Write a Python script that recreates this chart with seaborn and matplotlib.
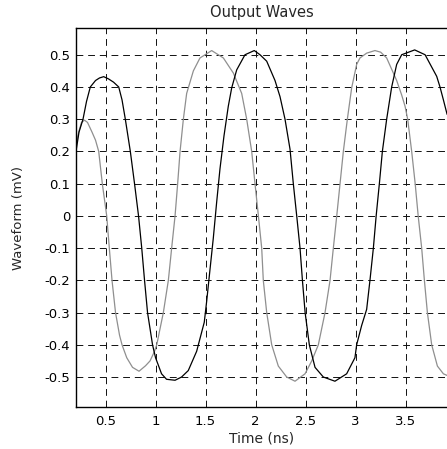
import matplotlib
matplotlib.use("Agg")
import matplotlib.pyplot as plt
import seaborn as sns
import pandas as pd

# Black wave (time in ns, waveform in mV)
black_t = [0.205, 0.235, 0.275, 0.31, 0.348, 0.40, 0.44, 0.482, 0.53, 0.58, 0.632, 0.665,
           0.698, 0.748, 0.79, 0.83, 0.862, 0.89, 0.92, 0.97, 1.0, 1.06, 1.11, 1.195, 1.26,
           1.327, 1.411, 1.487, 1.511, 1.544, 1.577, 1.611, 1.644, 1.684, 1.727, 1.761, 1.811,
           1.894, 1.987, 2.044, 2.111, 2.194, 2.244, 2.294, 2.344, 2.377, 2.411, 2.444, 2.468,
           2.495, 2.537, 2.594, 2.677, 2.793, 2.91, 2.993, 3.01, 3.06, 3.11, 3.143, 3.177,
           3.205, 3.237, 3.267, 3.31, 3.36, 3.41, 3.46, 3.59, 3.694, 3.81, 3.843, 3.877, 3.914]
black_v = [0.20, 0.26, 0.30, 0.355, 0.40, 0.42, 0.428, 0.432, 0.425, 0.415, 0.40, 0.36,
           0.30, 0.20, 0.10, 0.0, -0.10, -0.20, -0.30, -0.40, -0.44, -0.49, -0.507, -0.51, -0.50,
           -0.48, -0.42, -0.33, -0.265, -0.167, -0.07, 0.043, 0.146, 0.248, 0.34, 0.397, 0.453,
           0.50, 0.513, 0.50, 0.48, 0.42, 0.37, 0.30, 0.207, 0.10, 0.0, -0.10, -0.20,
           -0.30, -0.40, -0.47, -0.50, -0.513, -0.49, -0.44, -0.40, -0.34, -0.29, -0.20, -0.10,
           0.0, 0.10, 0.20, 0.30, 0.40, 0.47, 0.50, 0.515, 0.50, 0.433, 0.40, 0.36, 0.315]

# Gray wave
gray_t = [0.205, 0.232, 0.26, 0.29, 0.32, 0.365, 0.40, 0.432, 0.468, 0.512, 0.538, 0.565,
          0.60, 0.64, 0.665, 0.712, 0.77, 0.835, 0.90, 0.945, 0.99, 1.012, 1.078, 1.128,
          1.161, 1.195, 1.221, 1.245, 1.278, 1.311, 1.378, 1.444, 1.561, 1.678, 1.778, 1.861,
          1.911, 1.961, 1.994, 2.028, 2.061, 2.077, 2.111, 2.161, 2.227, 2.311, 2.394, 2.494,
          2.561, 2.627, 2.694, 2.744, 2.777, 2.811, 2.844, 2.877, 2.917, 2.96, 3.01, 3.043,
          3.11, 3.193, 3.25, 3.31, 3.36, 3.41, 3.46, 3.494, 3.52, 3.56, 3.595, 3.625, 3.66,
          3.687, 3.717, 3.76, 3.817, 3.877, 3.914]
gray_v = [0.22, 0.26, 0.29, 0.297, 0.29, 0.26, 0.235, 0.20, 0.10, 0.0, -0.10, -0.20,
          -0.30, -0.37, -0.40, -0.44, -0.47, -0.482, -0.465, -0.45, -0.42, -0.40, -0.30, -0.20,
          -0.10, 0.0, 0.10, 0.20, 0.30, 0.38, 0.45, 0.49, 0.513, 0.49, 0.443, 0.38,
          0.30, 0.20, 0.10, 0.0, -0.10, -0.20, -0.30, -0.40, -0.466, -0.50, -0.513, -0.49,
          -0.45, -0.40, -0.30, -0.20, -0.10, 0.0, 0.10, 0.20, 0.30, 0.397, 0.47, 0.49,
          0.505, 0.513, 0.508, 0.49, 0.455, 0.42, 0.375, 0.34, 0.30, 0.20, 0.10, 0.0, -0.10,
          -0.20, -0.30, -0.40, -0.466, -0.49, -0.495]

x_ticks = [0.5, 1.0, 1.5, 2.0, 2.5, 3.0, 3.5]
x_tick_labels = ["0.5", "1", "1.5", "2", "2.5", "3", "3.5"]
y_ticks = [-0.5, -0.4, -0.3, -0.2, -0.1, 0.0, 0.1, 0.2, 0.3, 0.4, 0.5]
y_tick_labels = ["-0.5", "-0.4", "-0.3", "-0.2", "-0.1", "0", "0.1", "0.2", "0.3", "0.4", "0.5"]

title = "Output Waves"
x_label = "Time (ns)"
y_label = "Waveform (mV)"

df = pd.concat([
    pd.DataFrame({"t": black_t, "v": black_v, "wave": "black"}),
    pd.DataFrame({"t": gray_t, "v": gray_v, "wave": "gray"}),
], ignore_index=True)

sns.set_style("white")
plt.rcParams["font.family"] = ["DejaVu Sans"]

fig = plt.figure(figsize=(4.47, 4.49), dpi=100)
ax = fig.add_axes([76 / 447, 42 / 449, 371 / 447, 379 / 449])

sns.lineplot(data=df, x="t", y="v", hue="wave", palette={"black": "#000000", "gray": "#8f8f8f"},
             hue_order=["gray", "black"], linewidth=0.9, legend=False, ax=ax, sort=False,
             estimator=None)

ax.set_xlim(0.205, 3.913)
ax.set_ylim(-0.593, 0.583)
ax.set_xticks(x_ticks)
ax.set_xticklabels(x_tick_labels)
ax.set_yticks(y_ticks)
ax.set_yticklabels(y_tick_labels)
ax.tick_params(direction="in", length=0, labelsize=9.5, colors="#000000")
ax.tick_params(axis="x", pad=6)
ax.tick_params(axis="y", pad=4)

ax.grid(True, color="#111111", linewidth=0.7, linestyle=(0, (7, 5)))
ax.set_axisbelow(True)

for side in ["left", "bottom", "top"]:
    ax.spines[side].set_visible(True)
    ax.spines[side].set_color("#000000")
    ax.spines[side].set_linewidth(1.0)
ax.spines["right"].set_visible(False)

ax.set_title(title, fontsize=10.5, pad=8)
ax.set_xlabel(x_label, fontsize=10, labelpad=2)
ax.set_ylabel(y_label, fontsize=9.5, labelpad=14)

fig.savefig("out.png", dpi=100)
